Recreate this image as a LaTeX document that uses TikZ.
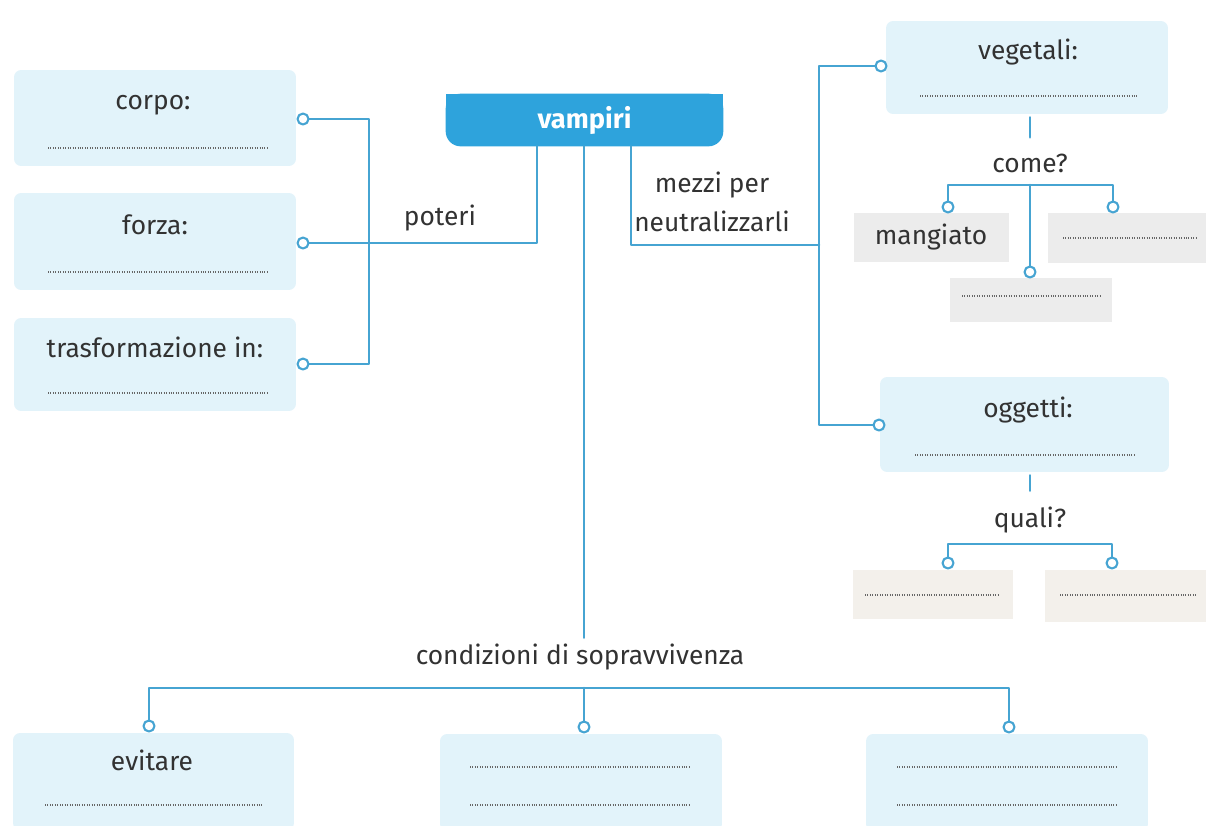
\documentclass[tikz,border=0pt]{standalone}
\usepackage{fontspec}
\setmainfont{Fira Sans}
\usetikzlibrary{backgrounds}
\definecolor{linea}{RGB}{70,164,210}
\definecolor{azzurro}{RGB}{226,243,250}
\definecolor{blu}{RGB}{46,163,220}
\definecolor{grigio}{RGB}{236,236,236}
\definecolor{beige}{RGB}{243,240,235}
\definecolor{testo}{RGB}{50,50,50}
\begin{document}
\begin{tikzpicture}[x=0.02cm, y=-0.02cm, font=\fontsize{15}{18}\selectfont, text=testo, line join=round, line cap=round,
    link/.style={draw=linea, line width=1.5pt},
    pallino/.style={circle, draw=linea, line width=1.2pt, fill=white, inner sep=0pt, minimum size=0.22cm},
    scheda/.style={fill=azzurro, rounded corners=4pt, inner sep=0pt, minimum width=5.64cm},
    grigia/.style={fill=grigio, inner sep=0pt},
    chiara/.style={fill=beige, inner sep=0pt},
    puntini/.style={draw=gray!80!black, line width=0.6pt, dash pattern=on 0.5pt off 0.9pt, line cap=butt}]
    \useasboundingbox (0,0) rectangle (1206,825);
    % poteri
    \node[scheda, minimum height=1.92cm] (corpo) at (155,118) {};
    \node[scheda, minimum height=1.94cm] (forza) at (155,241.5) {};
    \node[scheda, minimum height=1.86cm] (trasf) at (155,364.5) {};
    \node at (153,105) {corpo:};
    \node at (155,225) {forza:};
    \node at (155,347) {trasformazione in:};
    \draw[puntini] (48,148) -- (267,148);
    \draw[puntini] (48,272) -- (267,272);
    \draw[puntini] (48,393) -- (267,393);
    \node[pallino] (c-corpo) at (303,119) {};
    \node[pallino] (c-forza) at (303,243) {};
    \node[pallino] (c-trasf) at (303,364) {};
    % centro
    \node[minimum width=5.54cm, minimum height=1.04cm, text=white, font=\fontsize{15.5}{18}\selectfont\bfseries] (vampiri) at (584.5,120) {vampiri};
    \begin{scope}[on background layer]
        \fill[blu, rounded corners=0.3cm] (vampiri.north west) rectangle (vampiri.south east);
        \fill[blu] (vampiri.north west) rectangle (vampiri.east);
    \end{scope}
    \coordinate (jsx) at (369,243);
    \coordinate (pot) at (537,243);
    \draw[link] (c-corpo) -- (c-corpo -| jsx) -- (c-trasf -| jsx) -- (c-trasf);
    \draw[link] (c-forza) -- (pot) -- (pot |- vampiri.south);
    \node (poteri) at (440,218) {poteri};
    % mezzi per neutralizzarli
    \coordinate (mez) at (631,245);
    \coordinate (jdx) at (819,245);
    \draw[link] (mez |- vampiri.south) -- (mez) -- (jdx);
    \node[align=center, font=\fontsize{15}{22}\selectfont] (mezzi) at (712,202) {mezzi per\\neutralizzarli};
    \node[scheda, minimum height=1.86cm] (vegetali) at (1027,67.5) {};
    \node at (1028,52) {vegetali:};
    \draw[puntini] (920,96) -- (1138,96);
    \node[scheda, minimum width=5.78cm, minimum height=1.9cm] (oggetti) at (1024.5,424.5) {};
    \node at (1028,410) {oggetti:};
    \draw[puntini] (915,455) -- (1135,455);
    \node[pallino] (c-veg) at (881,66) {};
    \node[pallino] (c-ogg) at (879,425) {};
    \draw[link] (c-veg) -- (c-veg -| jdx) -- (c-ogg -| jdx) -- (c-ogg);
    % come?
    \node (come) at (1030,163) {come?};
    \draw[link] (come |- vegetali.south) ++(0,3) -- ([yshift=0.2cm]come.north);
    \node[grigia, minimum width=3.1cm, minimum height=0.98cm] (mangiato) at (931,237) {mangiato};
    \node[grigia, minimum width=3.16cm, minimum height=1cm] (vegdx) at (1127,238) {};
    \node[grigia, minimum width=3.24cm, minimum height=0.88cm] (vegsotto) at (1031,300) {};
    \draw[puntini] (1063,238) -- (1197,238);
    \draw[puntini] (962,296) -- (1100,296);
    \node[pallino] (c-mang) at (948,207) {};
    \node[pallino] (c-vdx) at (1113,207) {};
    \node[pallino] (c-vsotto) at (1030,272) {};
    \coordinate (fc) at (1030,185);
    \draw[link] (c-mang) -- (c-mang |- fc) -- (c-vdx |- fc) -- (c-vdx);
    \draw[link] (fc) -- (c-vsotto);
    % quali?
    \node (quali) at (1030,520) {quali?};
    \draw[link] (quali |- oggetti.south) ++(0,3) -- ([yshift=0.2cm]quali.north);
    \node[chiara, minimum width=3.2cm, minimum height=0.98cm] (oggsx) at (933,594.5) {};
    \node[chiara, minimum width=3.22cm, minimum height=1.04cm] (oggdx) at (1125.5,596) {};
    \draw[puntini] (865,595) -- (1000,595);
    \draw[puntini] (1060,595) -- (1196,595);
    \node[pallino] (c-oggsx) at (948,563) {};
    \node[pallino] (c-oggdx) at (1112,563) {};
    \coordinate (fq) at (1030,544);
    \draw[link] (c-oggsx) -- (c-oggsx |- fq) -- (c-oggdx |- fq) -- (c-oggdx);
    % condizioni di sopravvivenza
    \node (cond) at (580,657) {condizioni di sopravvivenza};
    \coordinate (fb) at (584,688);
    \draw[link] (vampiri.south -| fb) -- (fb |- cond.north);
    \node[scheda, minimum width=5.62cm, minimum height=1.94cm] (evitare) at (153.5,781.5) {};
    \node[scheda, minimum height=1.94cm] (cmid) at (581,782.5) {};
    \node[scheda, minimum height=1.94cm] (cdx) at (1007,782.5) {};
    \node at (152,760) {evitare};
    \draw[puntini] (45,805) -- (263,805);
    \draw[puntini] (470,767) -- (690,767);
    \draw[puntini] (470,805) -- (690,805);
    \draw[puntini] (897,767) -- (1117,767);
    \draw[puntini] (897,805) -- (1117,805);
    \node[pallino] (c-evit) at (149,726) {};
    \node[pallino] (c-cmid) at (584,727) {};
    \node[pallino] (c-cdx) at (1009,727) {};
    \draw[link] (c-evit) -- (c-evit |- fb) -- (c-cdx |- fb) -- (c-cdx);
    \draw[link] (fb) -- (c-cmid);
\end{tikzpicture}
\end{document}
